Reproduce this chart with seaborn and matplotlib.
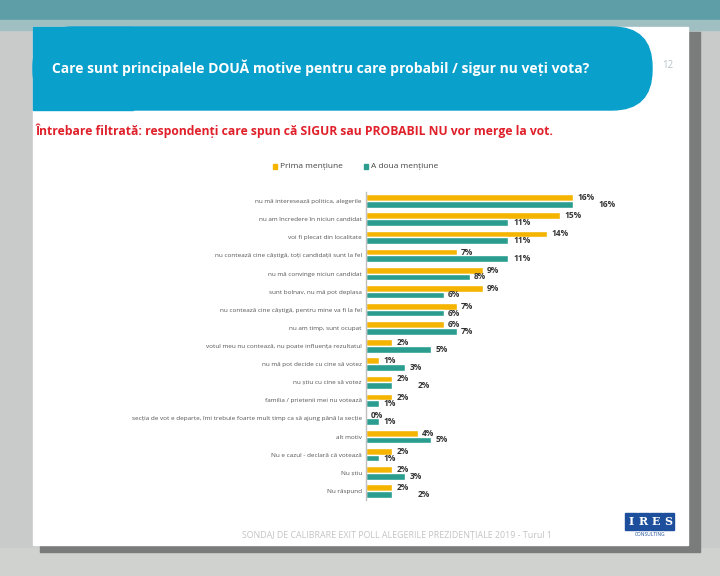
import matplotlib
matplotlib.use("Agg")
import matplotlib.pyplot as plt
import seaborn as sns
import pandas as pd
from matplotlib.patches import Rectangle, FancyBboxPatch

categories = [
    "nu mă interesează politica, alegerile",
    "nu am încredere în niciun candidat",
    "voi fi plecat din localitate",
    "nu contează cine câștigă, toți candidații sunt la fel",
    "nu mă convinge niciun candidat",
    "sunt bolnav, nu mă pot deplasa",
    "nu contează cine câștigă, pentru mine va fi la fel",
    "nu am timp, sunt ocupat",
    "votul meu nu contează, nu poate influența rezultatul",
    "nu mă pot decide cu cine să votez",
    "nu știu cu cine să votez",
    "familia / prietenii mei nu votează",
    "secția de vot e departe, îmi trebuie foarte mult timp ca să ajung până la secție",
    "alt motiv",
    "Nu e cazul - declară că votează",
    "Nu știu",
    "Nu răspund",
]
prima = [16, 15, 14, 7, 9, 9, 7, 6, 2, 1, 2, 2, 0, 4, 2, 2, 2]
adoua = [16, 11, 11, 11, 8, 6, 6, 7, 5, 3, 2, 1, 1, 5, 1, 3, 2]
series_names = ["Prima mențiune", "A doua mențiune"]
colors = ["#F4B400", "#2A9D8F"]

df = pd.DataFrame({
    "motiv": categories * 2,
    "valoare": prima + adoua,
    "serie": [series_names[0]] * len(categories) + [series_names[1]] * len(categories),
})

sns.set_theme(style="white")
plt.rcParams["font.family"] = ["Open Sans", "DejaVu Sans"]

W, H = 720, 576
fig = plt.figure(figsize=(7.2, 5.76), dpi=100)
fig.patch.set_facecolor("#c9cbcb")

# background decoration axes in pixel coordinates
bg = fig.add_axes([0, 0, 1, 1])
bg.set_xlim(0, W)
bg.set_ylim(H, 0)
bg.axis("off")
bg.add_patch(Rectangle((0, 0), W, 20, color="#5e9ea6", zorder=0))
bg.add_patch(Rectangle((0, 20), W, 10, color="#9fbfc2", zorder=0))
bg.add_patch(Rectangle((0, 548), W, 28, color="#cfd2cf", zorder=0))
# slide shadow
bg.add_patch(Rectangle((40, 32), 660, 520, color="#7a7c7c", zorder=1))
# slide
bg.add_patch(Rectangle((33, 27), 655, 518, color="white", zorder=2))
# banner
bg.add_patch(FancyBboxPatch((33, 27), 619, 83, boxstyle="round,pad=0,rounding_size=40",
                            color="#0aa0cc", zorder=3))
bg.add_patch(Rectangle((33, 27), 100, 83, color="#0aa0cc", zorder=3))
bg.text(52, 68, "Care sunt principalele DOUĂ motive pentru care probabil / sigur nu veți vota?",
        color="white", fontsize=10, fontweight="bold", va="center", ha="left", zorder=4)
bg.text(668, 66, "12", color="#b8c4c8", fontsize=7, ha="center", va="center", zorder=4)
bg.text(36, 131, "Întrebare filtrată: respondenți care spun că SIGUR sau PROBABIL NU vor merge la vot.",
        color="#e0202a", fontsize=8.7, fontweight="bold", va="center", ha="left", zorder=4)
bg.text(242, 536, "SONDAJ DE CALIBRARE EXIT POLL ALEGERILE PREZIDENȚIALE 2019 - Turul 1",
        color="#c4c4c4", fontsize=6.4, va="center", ha="left", zorder=4)
# IRES logo
for i, ch in enumerate("IRES"):
    bg.add_patch(Rectangle((625 + i * 12.5, 513), 11.5, 17, color="#1d4f9c", zorder=4))
    bg.text(625 + i * 12.5 + 5.75, 521.5, ch, color="white", fontsize=8, fontweight="bold",
            ha="center", va="center", family="DejaVu Serif", zorder=5)
bg.text(650, 534, "CONSULTING", color="#1d4f9c", fontsize=3.5, ha="center", va="center", zorder=5)

# chart axes
x0, x1 = 366, 650
ytop, ybot = 192, 500
ax = fig.add_axes([x0 / W, 1 - ybot / H, (x1 - x0) / W, (ybot - ytop) / H])
ax.set_zorder(5)
ax.patch.set_alpha(0)
sns.barplot(data=df, y="motiv", x="valoare", hue="serie", palette=colors,
            order=categories, hue_order=series_names, width=0.74, ax=ax, legend=False,
            saturation=1)
ax.set_xlim(0, (x1 - x0) / 12.95)
ax.set_xlabel("")
ax.set_ylabel("")
ax.set_xticks([])
for s in ["top", "right", "bottom"]:
    ax.spines[s].set_visible(False)
ax.spines["left"].set_color("#bfbfbf")
ax.spines["left"].set_linewidth(1)
ax.tick_params(axis="y", labelsize=4.6, labelcolor="#555555", length=0, pad=3)

# value labels
for k, (cont, vals) in enumerate(zip(ax.containers, [prima, adoua])):
    for i, (bar, v) in enumerate(zip(cont, vals)):
        y = bar.get_y() + bar.get_height() / 2
        xo = bar.get_width() + 0.35
        if k == 1 and abs(prima[i] - adoua[i]) <= 0.5:
            xo += 1.6
        ax.text(xo, y, f"{v}%", fontsize=6, fontweight="bold",
                color="#333333", va="center", ha="left")

# legend
lg_y = 167
bg.add_patch(Rectangle((273, lg_y - 3), 4, 5, color=colors[0], zorder=4))
bg.text(280, lg_y, series_names[0], fontsize=6, color="#444444", va="center", ha="left", zorder=4)
bg.add_patch(Rectangle((364, lg_y - 3), 4, 5, color=colors[1], zorder=4))
bg.text(371, lg_y, series_names[1], fontsize=6, color="#444444", va="center", ha="left", zorder=4)

fig.savefig("out.png", dpi=100, facecolor=fig.get_facecolor())
